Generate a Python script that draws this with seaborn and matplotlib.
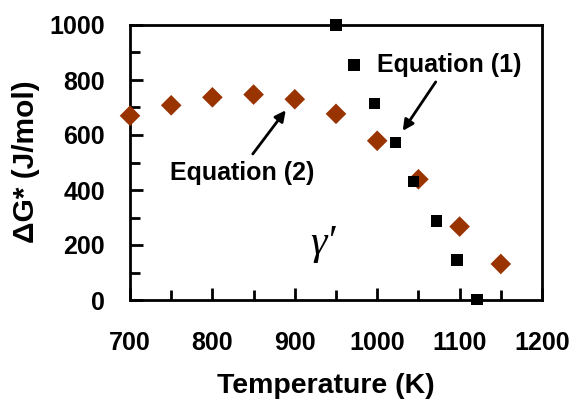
import matplotlib
matplotlib.use("Agg")
import matplotlib.pyplot as plt
import seaborn as sns
import pandas as pd

sns.set_theme(style="white")
plt.rcParams['font.family'] = ['Liberation Sans', 'DejaVu Sans']
plt.rcParams['text.color'] = 'black'
plt.rcParams['axes.labelcolor'] = 'black'
plt.rcParams['xtick.color'] = 'black'
plt.rcParams['ytick.color'] = 'black'

eq1_T = [950, 972, 997, 1022, 1044, 1072, 1097, 1121]
eq1_G = [1000, 855, 715, 573, 430, 287, 145, 2]
eq2_T = [700, 750, 800, 850, 900, 950, 1000, 1050, 1100, 1150]
eq2_G = [670, 708, 737, 747, 730, 677, 579, 439, 267, 131]

x_ticks = [700, 800, 900, 1000, 1100, 1200]
y_ticks = [0, 200, 400, 600, 800, 1000]

df1 = pd.DataFrame({"T": eq1_T, "G": eq1_G})
df2 = pd.DataFrame({"T": eq2_T, "G": eq2_G})

fig = plt.figure(figsize=(5.81, 4.01), dpi=100)
ax = fig.add_axes([130/581, 1 - 300/401, (542-130)/581, (300-25)/401])

sns.scatterplot(data=df2, x="T", y="G", ax=ax, marker="D", s=110, color="#993300",
                edgecolor="none", clip_on=False, zorder=3)
sns.scatterplot(data=df1, x="T", y="G", ax=ax, marker="s", s=68, color="black",
                edgecolor="none", clip_on=False, zorder=4)

ax.set_xlim(700, 1200)
ax.set_ylim(0, 1000)
ax.set_xticks(x_ticks)
ax.set_yticks(y_ticks)
ax.set_xticks(range(750, 1200, 100), minor=True)
ax.set_yticks(range(100, 1000, 200), minor=True)
ax.set_xticklabels([str(v) for v in x_ticks], fontsize=18, fontweight="bold")
ax.set_yticklabels([str(v) for v in y_ticks], fontsize=18, fontweight="bold")
ax.tick_params(axis="both", which="major", direction="in", length=9, width=2,
               colors="black", top=False, right=False, bottom=True, left=True)
ax.tick_params(axis="both", which="minor", direction="in", length=7, width=2,
               colors="black", top=False, right=False, bottom=True, left=True)
ax.tick_params(axis="x", which="major", pad=22)
ax.tick_params(axis="y", which="major", pad=18)
for sp in ax.spines.values():
    sp.set_visible(True)
    sp.set_color("black")
    sp.set_linewidth(2)

ax.set_xlabel("Temperature (K)", fontsize=20.5, fontweight="bold", color="black")
ax.set_ylabel("ΔG* (J/mol)", fontsize=21.5, fontweight="bold", color="black")
ax.xaxis.set_label_coords(0.476, -0.265)
ax.yaxis.set_label_coords(-0.218, 0.502)

ax.text(1087, 855, "Equation (1)", fontsize=18, fontweight="bold", ha="center", va="center")
ax.text(836, 462, "Equation (2)", fontsize=18, fontweight="bold", ha="center", va="center")
ax.annotate("", xy=(1031, 615), xytext=(1071, 793),
            arrowprops=dict(arrowstyle="-|>", color="black", lw=2, mutation_scale=16,
                            shrinkA=0, shrinkB=0))
ax.annotate("", xy=(889, 690), xytext=(849, 531),
            arrowprops=dict(arrowstyle="-|>", color="black", lw=2, mutation_scale=16,
                            shrinkA=0, shrinkB=0))
ax.text(934, 204, "γ′", fontsize=30, family=["Liberation Serif", "DejaVu Serif"],
        style="italic", ha="center", va="center")

fig.savefig("out.png", dpi=100)
